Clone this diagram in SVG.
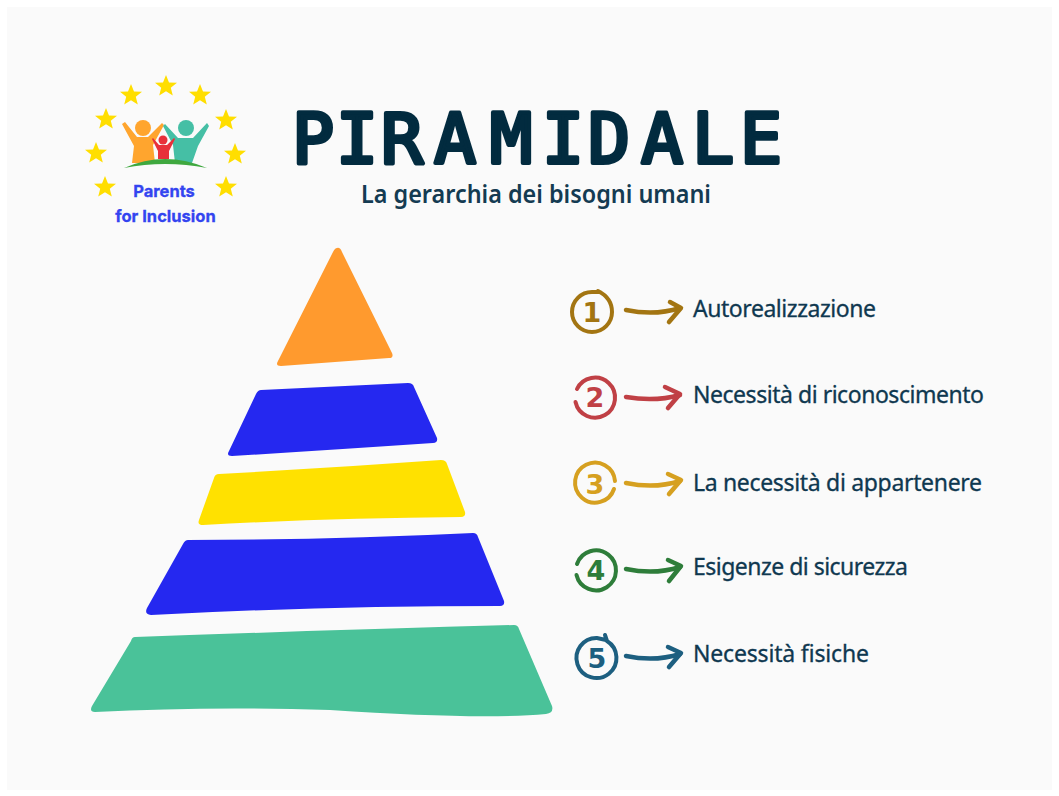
<svg xmlns="http://www.w3.org/2000/svg" width="1059" height="796" viewBox="0 0 1059 796">
<style>
.star{fill:#ffde00}
.title{font-family:"DejaVu Sans Mono","Liberation Mono",monospace;font-size:70px;fill:#022b3f;stroke:#022b3f;stroke-width:4;stroke-linejoin:round;text-anchor:middle}
.sub{font-family:"Noto Sans","Liberation Sans",sans-serif;font-size:26px;font-weight:600;fill:#143b52}
.label{font-family:"Noto Sans","Liberation Sans",sans-serif;font-size:23px;fill:#0f3850;stroke:#0f3850;stroke-width:.3}
.logo{font-family:"Inter","Liberation Sans",sans-serif;font-size:16.5px;font-weight:700;fill:#3344f0;stroke:#3344f0;stroke-width:.3;text-anchor:middle}
.ring{fill:none;stroke-width:4;stroke-linecap:round}
.arrow{fill:none;stroke-width:4.5;stroke-linecap:round;stroke-linejoin:round}
.num{font-family:"DejaVu Sans","Liberation Sans",sans-serif;font-size:27px;font-weight:700;text-anchor:middle}
</style>
<defs>
<polygon id="s" points="0,-11 3,-3.5 11,-3.2 4.8,1.8 6.8,9.5 0,5.2 -6.8,9.5 -4.8,1.8 -11,-3.2 -3,-3.5"/>
</defs>
<rect width="1059" height="796" fill="#ffffff"/>
<rect x="7" y="7" width="1045" height="783" fill="#fafafa"/>
<g id="logo">
<use href="#s" class="star" x="166" y="86"/><use href="#s" class="star" x="131" y="95"/><use href="#s" class="star" x="200" y="95"/>
<use href="#s" class="star" x="106" y="119"/><use href="#s" class="star" x="226" y="120"/><use href="#s" class="star" x="96" y="153"/>
<use href="#s" class="star" x="235" y="154"/><use href="#s" class="star" x="105" y="187"/><use href="#s" class="star" x="226" y="187"/>
<circle cx="143" cy="128" r="8" fill="#ffa52e"/>
<path d="M122 124 L125 122 L137 137 L148 137 L162 123 L164 125 L153 145 L155 163 L132 163 L134 146Z" fill="#ffa52e"/>
<circle cx="186" cy="128" r="8" fill="#45bfa5"/>
<path d="M163 126 L165 124 L178 138 L193 138 L207 123 L209 126 L198 146 L192 163 L175 163 L173 145Z" fill="#45bfa5"/>
<circle cx="163" cy="140" r="4.5" fill="#e8303a"/>
<path d="M152 139 L153 138 L159 145 L167 145 L174 138 L175 139 L169 151 L169 159 L158 159 L158 151Z" fill="#e8303a"/>
<path d="M124 168 Q165 150 207 168 Q165 160 124 168Z" fill="#3fa83f"/>
<text class="logo" x="164" y="197">Parents</text>
<text class="logo" x="165.500" y="222">for Inclusion</text>
</g>
<g id="title">
<text class="title" x="313 357 402 455 511 563 609 662 713 761" y="163">PIRAMIDALE</text>
<text class="sub" x="361" y="203" textLength="350" lengthAdjust="spacingAndGlyphs">La gerarchia dei bisogni umani</text>
</g>
<g id="pyramid">
<path id="level-1" d="M337 248 Q340 247 342 252 L392 353 Q394 358 389 358 L281 366 Q275 366 278 361 L333 252 Q335 248 337 248Z" fill="#ff9a2e"/>
<path id="level-2" d="M261 390 L408 383 Q413 383 414 387 L437 438 Q438 443 433 443 Q330 450 232 456 Q226 456 229 451 L256 394 Q258 390 261 390Z" fill="#2528f0"/>
<path id="level-3" d="M219 474 Q330 468 441 460 Q446 460 447 464 L465 512 Q466 517 461 517 Q330 518 203 525 Q197 525 199 520 L214 478 Q215 474 219 474Z" fill="#ffe100"/>
<path id="level-4" d="M188 540 Q330 540 473 533 Q477 533 478 537 L504 601 Q505 606 500 606 Q320 606 151 615 Q144 614 147 608 L183 544 Q185 540 188 540Z" fill="#2528f0"/>
<path id="level-5" d="M135 637 Q330 630 514 625 Q518 625 519 629 L552 706 Q554 713 546 714 Q480 720 330 710 Q210 706 95 712 Q89 712 92 706 L131 641 Q132 637 135 637Z" fill="#4ac299"/>
</g>
<g id="connectors">
<g class="arrow" stroke="#a37512"><path d="M626 310 Q655 316 680 308"/><path d="M670 302 L681 308 L669 322"/></g>
<g class="arrow" stroke="#c04045"><path d="M626 397 Q655 402 680 395"/><path d="M665 387 L680 394 L668 408"/></g>
<g class="arrow" stroke="#d6a020"><path d="M626 483 Q655 489 680 481"/><path d="M668 474 L681 480 L669 494"/></g>
<g class="arrow" stroke="#2e7d3a"><path d="M626 569 Q655 575 680 567"/><path d="M668 560 L681 566 L669 581"/></g>
<g class="arrow" stroke="#1d5f80"><path d="M626 656 Q655 662 680 654"/><path d="M668 647 L681 653 L669 667"/></g>
</g>
<g id="item-1">
<path class="ring" d="M598 291 Q612 298 612 312 A20 20 0 1 1 592 292 L600 292" stroke="#a37512"/>
<text class="num" x="592" y="322" fill="#a37512">1</text>
<text class="label" x="693" y="317" textLength="183">Autorealizzazione</text>
</g>
<g id="item-2">
<path class="ring" d="M575.500 402 A20 20 0 1 0 577 389" stroke="#c04045"/>
<text class="num" x="595" y="407" fill="#c04045">2</text>
<text class="label" x="693" y="403" textLength="291">Necessità di riconoscimento</text>
</g>
<g id="item-3">
<path class="ring" d="M614 489 A20 20 0 1 1 615 481" stroke="#d6a020"/>
<text class="num" x="595" y="494" fill="#d6a020">3</text>
<text class="label" x="693" y="491" textLength="289">La necessità di appartenere</text>
</g>
<g id="item-4">
<path class="ring" d="M576.500 575 A20 20 0 1 0 577 564" stroke="#2e7d3a"/>
<text class="num" x="596" y="580" fill="#2e7d3a">4</text>
<text class="label" x="693" y="575" textLength="215">Esigenze di sicurezza</text>
</g>
<g id="item-5">
<path class="ring" d="M605 635 L607 641 A20 20 0 1 1 597 638 L606 640" stroke="#1d5f80"/>
<text class="num" x="597" y="668" fill="#1d5f80">5</text>
<text class="label" x="693" y="662" textLength="176">Necessità fisiche</text>
</g>
</svg>
